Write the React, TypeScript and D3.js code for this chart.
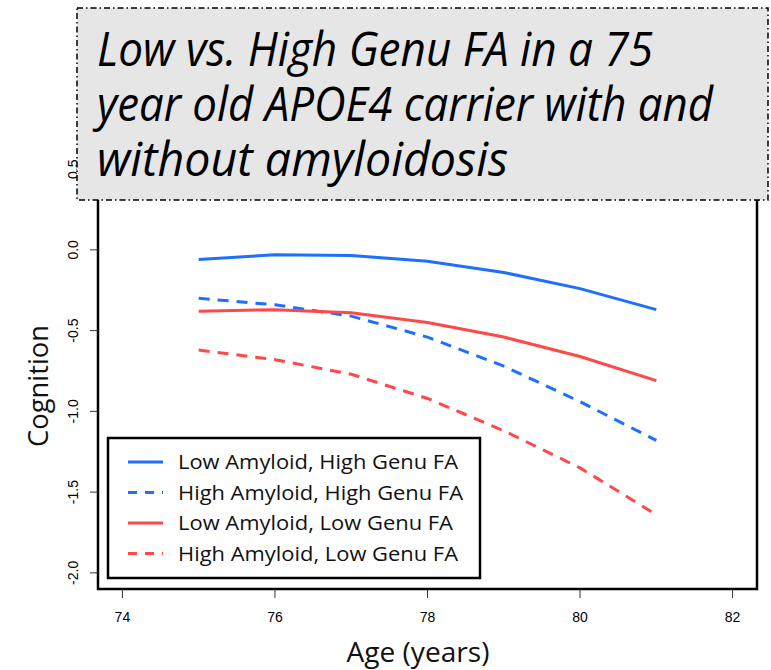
import React from "react";
import * as d3 from "d3";

// ages on the x axis
const ages = [75, 76, 77, 78, 79, 80, 81];

// predicted cognition per group
const lowAmyHighFA = [-0.06, -0.03, -0.035, -0.07, -0.14, -0.24, -0.37];
const highAmyHighFA = [-0.3, -0.34, -0.41, -0.54, -0.72, -0.94, -1.18];
const lowAmyLowFA = [-0.38, -0.37, -0.39, -0.45, -0.54, -0.66, -0.81];
const highAmyLowFA = [-0.62, -0.68, -0.77, -0.92, -1.12, -1.35, -1.64];

const xTicks = [74, 76, 78, 80, 82];
const yTicks = [-2.0, -1.5, -1.0, -0.5, 0.0, 0.5];

const titleLines = [
  "Low vs. High Genu FA in a 75",
  "year old APOE4 carrier with and",
  "without amyloidosis",
];
const titleWidths = [556, 616, 411];

const BLUE = "#1f6fff";
const RED = "#ff4848";

const series = [
  { name: "Low Amyloid, High Genu FA", values: lowAmyHighFA, color: BLUE, dashed: false, w: 280 },
  { name: "High Amyloid, High Genu FA", values: highAmyHighFA, color: BLUE, dashed: true, w: 285 },
  { name: "Low Amyloid, Low Genu FA", values: lowAmyLowFA, color: RED, dashed: false, w: 275 },
  { name: "High Amyloid, Low Genu FA", values: highAmyLowFA, color: RED, dashed: true, w: 280 },
];

export default function App() {
  const width = 771;
  const height = 670;
  const plot = { left: 98, right: 757, top: 153, bottom: 589 };

  const x = d3.scaleLinear().domain([73.68, 82.32]).range([plot.left, plot.right]);
  const y = d3.scaleLinear().domain([-2.1, 0.6]).range([plot.bottom, plot.top]);

  const line = d3
    .line<number>()
    .x((_, i) => x(ages[i]))
    .y((d) => y(d))
    .curve(d3.curveLinear);

  const tickFont = "'Liberation Sans', Arial, sans-serif";
  const labelFont = "'Open Sans', 'Noto Sans', sans-serif";

  const legend = { x: 108, y: 438, w: 372, h: 140 };

  return (
    <svg
      width={width}
      height={height}
      style={{ position: "absolute", left: 0, top: 0, background: "#fff" }}
    >
      {/* lines */}
      <g fill="none" strokeWidth={3}>
        {series.map((s) => (
          <path
            key={s.name}
            d={line(s.values) || ""}
            stroke={s.color}
            strokeDasharray={s.dashed ? "11,8" : undefined}
          />
        ))}
      </g>

      {/* plot frame */}
      <rect
        x={plot.left}
        y={plot.top}
        width={plot.right - plot.left}
        height={plot.bottom - plot.top}
        fill="none"
        stroke="#000"
        strokeWidth={2.5}
      />

      {/* x axis */}
      <g fontFamily={tickFont} fontSize={14} textAnchor="middle">
        {xTicks.map((t) => (
          <g key={t}>
            <line x1={x(t)} x2={x(t)} y1={plot.bottom} y2={plot.bottom + 9} stroke="#333" strokeWidth={1} />
            <text x={x(t)} y={plot.bottom + 33}>{t}</text>
          </g>
        ))}
      </g>

      {/* y axis */}
      <g fontFamily={tickFont} fontSize={14} textAnchor="middle">
        {yTicks.map((t) => (
          <g key={t}>
            <line x1={plot.left} x2={plot.left - 8} y1={y(t)} y2={y(t)} stroke="#333" strokeWidth={1} />
            <text transform={`translate(78,${y(t)}) rotate(-90)`}>{t.toFixed(1)}</text>
          </g>
        ))}
      </g>

      {/* axis titles */}
      <text
        x={418}
        y={662}
        textAnchor="middle"
        fontFamily={labelFont}
        fontSize={27}
        fill="#111"
        textLength={143}
        lengthAdjust="spacingAndGlyphs"
      >
        Age (years)
      </text>
      <text
        transform={`translate(48,386) rotate(-90)`}
        textAnchor="middle"
        fontFamily={labelFont}
        fontSize={27}
        fill="#111"
        textLength={122}
        lengthAdjust="spacingAndGlyphs"
      >
        Cognition
      </text>

      {/* legend */}
      <rect
        x={legend.x}
        y={legend.y}
        width={legend.w}
        height={legend.h}
        fill="#fff"
        stroke="#000"
        strokeWidth={2.5}
      />
      {series.map((s, i) => {
        const cy = legend.y + 24 + i * 30.5;
        return (
          <g key={s.name}>
            <line
              x1={128}
              x2={163}
              y1={cy}
              y2={cy}
              stroke={s.color}
              strokeWidth={3}
              strokeDasharray={s.dashed ? "9,8" : undefined}
            />
            <text
              x={178}
              y={cy + 7}
              fontFamily={labelFont}
              fontSize={20}
              fill="#111"
              textLength={s.w}
              lengthAdjust="spacingAndGlyphs"
            >
              {s.name}
            </text>
          </g>
        );
      })}

      {/* title box */}
      <rect
        x={77}
        y={8}
        width={691}
        height={192}
        fill="#e6e6e6"
        stroke="#000"
        strokeWidth={1.5}
        strokeDasharray="6,3,1.5,3"
      />
      {titleLines.map((t, i) => (
        <text
          key={t}
          x={97}
          y={66 + i * 55}
          fontFamily={labelFont}
          fontStyle="italic"
          fontSize={47}
          fill="#000"
          textLength={titleWidths[i]}
          lengthAdjust="spacingAndGlyphs"
        >
          {t}
        </text>
      ))}
    </svg>
  );
}
